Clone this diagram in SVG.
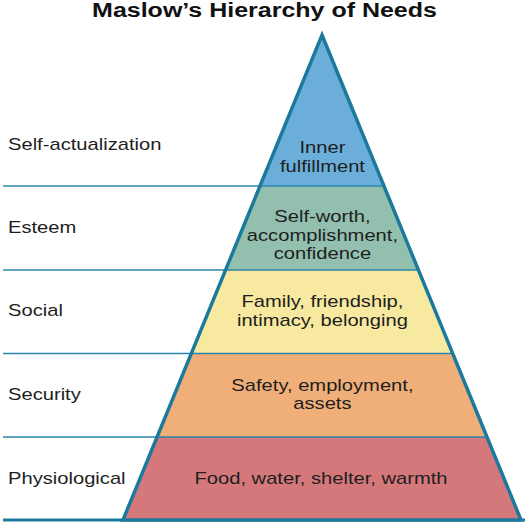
<svg xmlns="http://www.w3.org/2000/svg" width="528" height="526" viewBox="0 0 528 526">
<style>
.lbl{font-family:"Liberation Sans",Arial,sans-serif;font-size:16px;fill:#1e1e1e}
.in{font-family:"Liberation Sans",Arial,sans-serif;font-size:16px;fill:#1e1e1e;text-anchor:middle}
.sep{stroke:#2a86ad;stroke-width:1.6;fill:none}
.title{font-family:"Liberation Sans",Arial,sans-serif;font-size:20px;font-weight:bold;fill:#111;text-anchor:middle}
</style>
<rect width="528" height="526" fill="#fff"/>
<g transform="scale(1.25,1)"><text class="title" x="211.6" y="17">Maslow’s Hierarchy of Needs</text></g>
<g id="connectors">
<line class="sep" x1="3" y1="186" x2="260" y2="186"/>
<line class="sep" x1="3" y1="270" x2="226" y2="270"/>
<line class="sep" x1="3" y1="353.5" x2="192" y2="353.5"/>
<line class="sep" x1="3" y1="437" x2="157" y2="437"/>
<line x1="3" y1="520" x2="525" y2="520" stroke="#1b7a9c" stroke-width="3"/>
</g>
<g id="self-actualization">
<polygon points="322,35 384,186 260,186" fill="#6aaed9"/>
<g transform="scale(1.26,1)">
<text class="lbl" x="6.35" y="150.5">Self-actualization</text>
<text class="in" x="255.9" y="153.5">Inner</text>
<text class="in" x="255.9" y="172.5">fulfillment</text>
</g>
</g>
<g id="esteem">
<polygon points="260,186 384,186 418.4,270 225.6,270" fill="#93bfae"/>
<g transform="scale(1.26,1)">
<text class="lbl" x="6.35" y="233">Esteem</text>
<text class="in" x="255.9" y="222">Self-worth,</text>
<text class="in" x="255.9" y="241">accomplishment,</text>
<text class="in" x="255.9" y="259.5">confidence</text>
</g>
</g>
<g id="social">
<polygon points="225.6,270 418.4,270 452.5,353.5 191.5,353.5" fill="#f8e9a0"/>
<g transform="scale(1.26,1)">
<text class="lbl" x="6.35" y="316.5">Social</text>
<text class="in" x="255.9" y="307">Family, friendship,</text>
<text class="in" x="255.9" y="326">intimacy, belonging</text>
</g>
</g>
<g id="security">
<polygon points="191.5,353.5 452.5,353.5 486.9,437 157.1,437" fill="#f0ae78"/>
<g transform="scale(1.26,1)">
<text class="lbl" x="6.35" y="400">Security</text>
<text class="in" x="255.9" y="391">Safety, employment,</text>
<text class="in" x="255.9" y="409.5">assets</text>
</g>
</g>
<g id="physiological">
<polygon points="157.1,437 486.9,437 521,520 123,520" fill="#d4787c"/>
<g transform="scale(1.26,1)">
<text class="lbl" x="6.35" y="484">Physiological</text>
<text class="in" x="254.8" y="484">Food, water, shelter, warmth</text>
</g>
</g>
<g id="bands">
<line class="sep" x1="260" y1="186" x2="384" y2="186"/>
<line class="sep" x1="225.6" y1="270" x2="418.4" y2="270"/>
<line class="sep" x1="191.5" y1="353.5" x2="452.5" y2="353.5"/>
<line class="sep" x1="157.1" y1="437" x2="486.9" y2="437"/>
</g>
<polygon id="outline" points="322,35 521,520 123,520" fill="none" stroke="#1b7a9c" stroke-width="3.5" stroke-linejoin="miter" stroke-miterlimit="20"/>
</svg>
